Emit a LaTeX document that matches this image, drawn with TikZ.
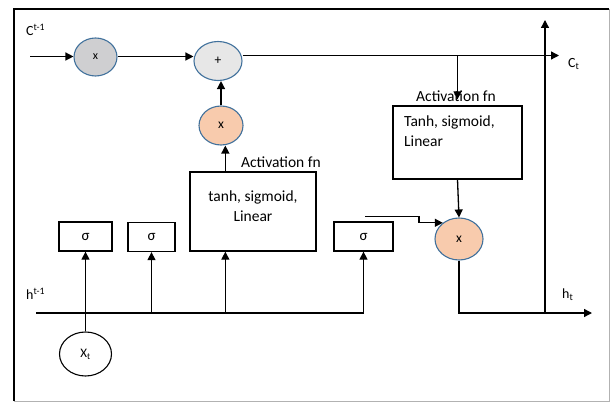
\documentclass[tikz,border=0pt]{standalone}
\usepackage{fontspec}
\setmainfont{Carlito}
\usetikzlibrary{arrows.meta,shapes.geometric,calc}
\definecolor{edgeblue}{HTML}{41719C}
\definecolor{gatedark}{HTML}{CFCFD1}
\definecolor{gatelight}{HTML}{E7E7E7}
\definecolor{gateorange}{HTML}{F8CBAD}
\begin{document}
\begin{tikzpicture}[x=1pt,y=-1pt,
  ln/.style={line width=1.3pt},
  arr/.style={line width=1.3pt,-{Triangle[length=8pt,width=8pt]}},
  gate/.style={ellipse,draw=edgeblue,line width=1.1pt,inner sep=0pt,font=\fontsize{13.5}{13.5}\selectfont},
  sbox/.style={draw,line width=1.3pt,inner sep=0pt,minimum height=29pt,font=\fontsize{15}{15}\selectfont},
  fbox/.style={draw,line width=1.3pt,inner sep=0pt},
  txt/.style={inner sep=0pt,font=\fontsize{15.5}{20}\selectfont},
  lab/.style={inner sep=0pt,font=\fontsize{14}{14}\selectfont}
]
\useasboundingbox (0,0) rectangle (612,403);
% frame
\draw[line width=1.6pt] (14,401) -- (14,9) -- (609,9);
\draw[gray!60,line width=0.9pt] (609,9) -- (609,401) -- (14,401);

% gates
\node[gate,fill=gatedark,minimum width=43pt,minimum height=38pt,font=\fontsize{12}{12}\selectfont] (m1) at (95.5,57) {x};
\node[gate,fill=gatelight,minimum width=48pt,minimum height=39pt] (m2) at (218,61) {+};
\node[gate,fill=gateorange,minimum width=44pt,minimum height=39pt] (o1) at (221,125.5) {x};
\node[gate,fill=gateorange,minimum width=48pt,minimum height=42pt] (o2) at (459,239) {x};
\node[ellipse,draw,line width=1.1pt,inner sep=0pt,minimum width=52pt,minimum height=44pt,font=\fontsize{13}{13}\selectfont] (xt) at (85.5,354) {X\textsubscript{t}};

% boxes
\node[fbox,minimum width=126pt,minimum height=79pt] (b1) at (253,211.5) {};
\node[txt,align=center] (b1t) at (253,206) {tanh, sigmoid,\\Linear};
\node[fbox,minimum width=129pt,minimum height=73pt] (b2) at (457.5,142.5) {};
\node[txt,align=left,anchor=north west] (b2t) at (404,116) {Tanh, sigmoid,\\Linear};
\node[txt,anchor=west] (act1) at (241,162) {Activation fn};
\node[txt] (act2) at (456,96) {Activation fn};

\node[sbox,minimum width=53pt] (s1) at (85.5,236.5) {σ};
\node[sbox,minimum width=47pt] (s2) at (151.5,237) {σ};
\node[sbox,minimum width=59pt] (s4) at (363.5,236.5) {σ};

% labels
\node[lab,anchor=west] (cprev) at (26,30) {C\textsuperscript{t-1}};
\node[lab,anchor=west] (cnext) at (568,64) {C\textsubscript{t}};
\node[lab,anchor=west] (hprev) at (26,294) {h\textsuperscript{t-1}};
\node[lab,anchor=west] (hnext) at (562,295) {h\textsubscript{t}};

% coordinates
\coordinate (cin) at (30,56.5);
\coordinate (cout) at (559,55.5);
\coordinate (hin) at (36,313);
\coordinate (hout) at (592,313);
\coordinate (vtop) at (545,20);
\coordinate (a1) at ($(b1.north west)+(36,0)$);
\coordinate (s4o) at ($(s4.north)+(1.5,-5)$);

% cell state
\draw[arr] (cin) -- (cin -| m1.west);
\draw[arr] (m1.east |- cin) -- (cin -| m2.west);
\draw[arr] (m2.east |- cout) -- (cout);
\draw[arr] (b2.north |- cout) -- ($(b2.north)+(0,-6)$);
\draw[arr] (b2.south) -- (o2.north);
\draw[arr] (o1.north) -- (o1.north |- m2.south);
\draw[arr] (a1) -- (a1 |- o1.south);

% hidden line
\draw[arr] (hin) -| (s4.south);
\draw[arr] (s2.south |- hin) -- (s2.south);
\draw[arr] (a1 |- hin) -- (a1 |- b1.south);
\draw[arr] (xt.north) -- (s1.south);
\draw[arr] (s4o) -- ++(54,0) |- (o2.135);
\draw[arr] (o2.south) |- (hout);
\draw[arr] (vtop |- hout) -- (vtop);
\end{tikzpicture}
\end{document}
